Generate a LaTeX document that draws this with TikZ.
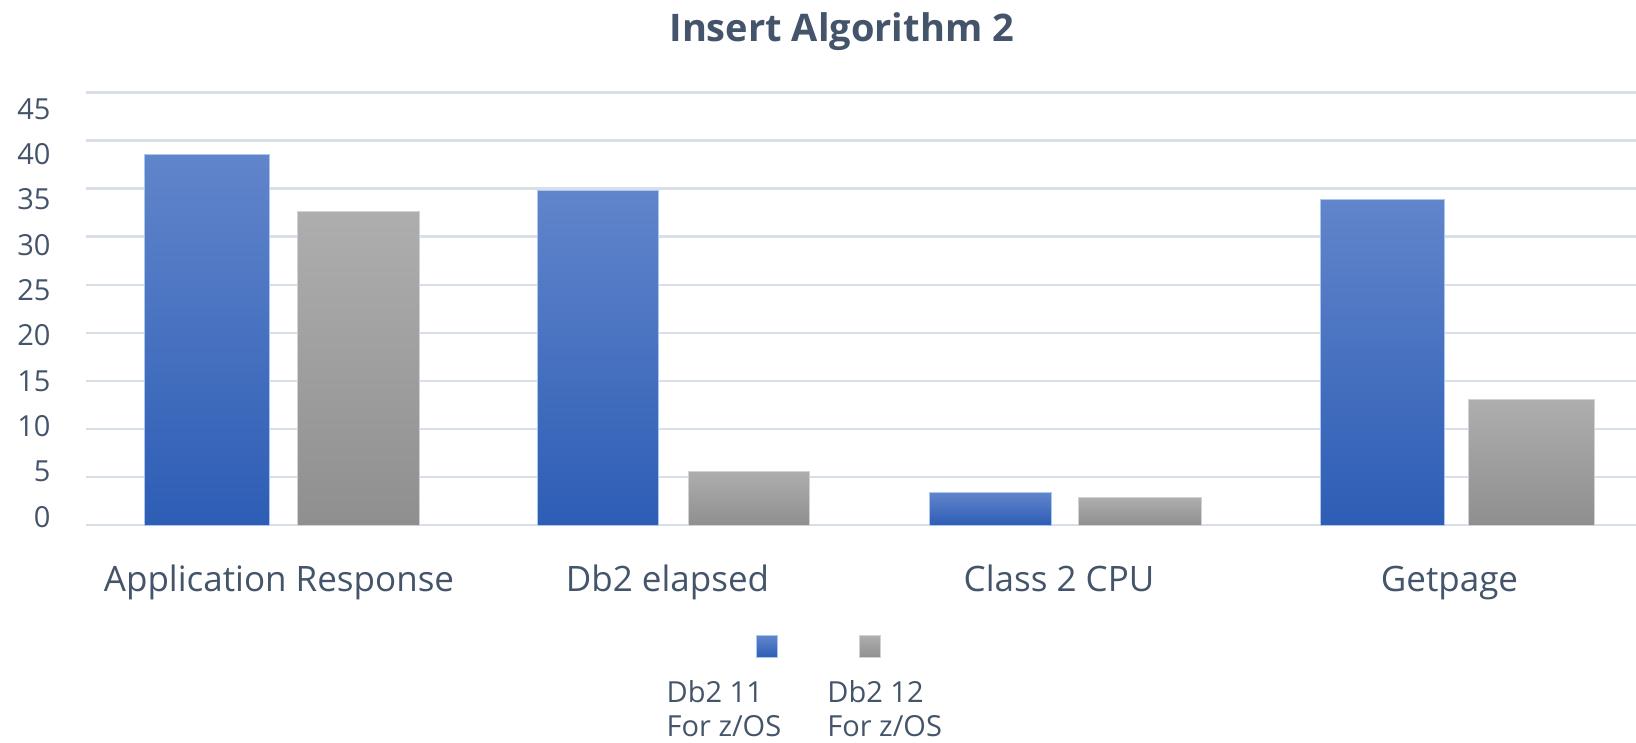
\documentclass[tikz,border=0pt]{standalone}
\usepackage{fontspec}
\setmainfont{Open Sans}
\definecolor{txt}{HTML}{44546A}
\definecolor{grid}{HTML}{D9DFE9}
\definecolor{btop}{HTML}{6185CB}
\definecolor{bbot}{HTML}{2D5DB5}
\definecolor{bedge}{HTML}{A9C8EC}
\definecolor{gtop}{HTML}{AEAEAE}
\definecolor{gbot}{HTML}{8F8F8F}
\definecolor{gedge}{HTML}{D2D2D2}
\tikzset{
  gridline/.style={draw=grid, line width=2.7pt},
  bluebar/.style={top color=btop, bottom color=bbot, draw=bedge, line width=1pt},
  graybar/.style={top color=gtop, bottom color=gbot, draw=gedge, line width=1pt},
  ticklab/.style={text=txt, inner sep=0pt, anchor=base east, font=\fontsize{29}{34}\selectfont},
  catlab/.style={text=txt, inner sep=0pt, anchor=base, font=\fontsize{35}{42}\selectfont},
  leglab/.style={text=txt, inner sep=0pt, anchor=base west, font=\fontsize{29}{34}\selectfont},
  titlelab/.style={text=txt, inner sep=0pt, anchor=base, font=\fontsize{38}{46}\selectfont\bfseries},
}
\begin{document}
\begin{tikzpicture}[x=1pt,y=-1pt]
\useasboundingbox[fill=white] (0,0) rectangle (1636,742);
% gridlines
\foreach \i in {0,...,9}{
  \draw[gridline] (86,{525-48.03*\i}) -- (1636,{525-48.03*\i});
}
% tick labels
\foreach \i in {0,...,9}{
  \pgfmathtruncatemacro{\v}{5*\i}
  \node[ticklab] (t\i) at (50.7,{527-45.3*\i}) {\v};
}
% bars
\path[bluebar] (144,525) rectangle (269,154.3);
\path[graybar] (297.3,525) rectangle (419.3,211);
\path[bluebar] (537,525) rectangle (658.3,190.7);
\path[graybar] (688.3,525) rectangle (809.3,471);
\path[bluebar] (929,525) rectangle (1051.6,492.7);
\path[graybar] (1078,525) rectangle (1201,497.7);
\path[bluebar] (1320,525) rectangle (1444.6,199.3);
\path[graybar] (1468,525) rectangle (1594,399);
% category labels
\node[catlab] (c1) at (279,591) {Application Response};
\node[catlab] (c2) at (667.5,591) {Db2 elapsed};
\node[catlab] (c3) at (1059,591) {Class 2 CPU};
\node[catlab] (c4) at (1449.5,591) {Getpage};
% title
\node[titlelab] (title) at (841.7,41.7) {Insert Algorithm 2};
% legend
\path[bluebar] (756,657.7) rectangle (777.7,635.7);
\path[graybar] (859.3,657.7) rectangle (880.7,635.7);
\node[leglab] (l1a) at (666.5,702.3) {Db2 11};
\node[leglab] (l1b) at (666.5,736.7) {For z/OS};
\node[leglab] (l2a) at (827.2,702.3) {Db2 12};
\node[leglab] (l2b) at (827.2,736.7) {For z/OS};
\end{tikzpicture}
\end{document}
